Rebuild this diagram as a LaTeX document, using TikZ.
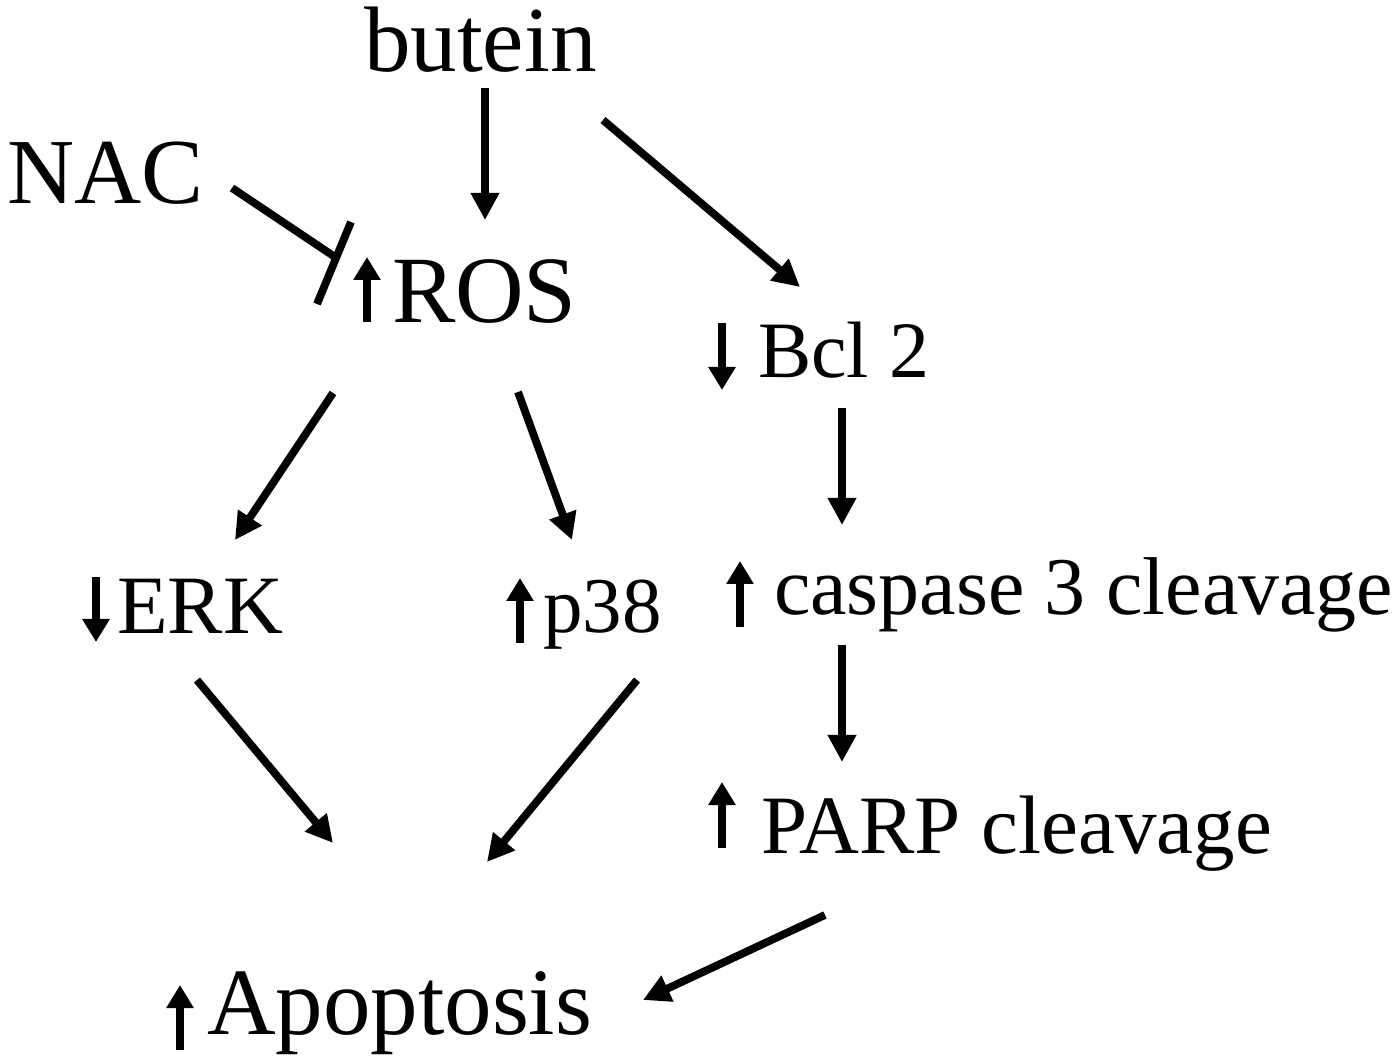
\documentclass[tikz,border=0pt]{standalone}
\usepackage{fontspec}
\setmainfont{Liberation Serif}
\usetikzlibrary{arrows.meta,calc}
\begin{document}
\begin{tikzpicture}[x=0.5pt,y=-0.5pt,
  lbl/.style={anchor=base west,inner sep=0pt,outer sep=0pt},
  fs/.style={font=\fontsize{#1}{#1}\selectfont},
  conn/.style={line width=3.9pt,-{Triangle[length=13.5pt,width=13.5pt]}},
  inh/.style={line width=3.9pt},
  glyph/.style={line width=4pt,-{Triangle[length=11.5pt,width=13pt]}}]
\useasboundingbox[fill=white] (0,0) rectangle (1398,1058);
% nodes
\node[lbl,fs=46.5pt] (butein) at (364,72)  {butein};
\node[lbl,fs=46.5pt] (nac)    at (7,204)   {NAC};
\node[lbl,fs=47.5pt] (ros)    at (392,323) {ROS};
\node[lbl,fs=40pt]   (bcl)    at (758,378) {Bcl 2};
\node[lbl,fs=41.5pt] (erk)    at (117,634) {ERK};
\node[lbl,fs=39.5pt] (p38)    at (543,633) {p38};
\node[lbl,fs=41pt]   (casp)   at (774,615) {caspase 3 cleavage};
\node[lbl,fs=41.5pt] (parp)   at (761,853) {PARP cleavage};
\node[lbl,fs=47.5pt] (apop)   at (207,1034) {Apoptosis};
% up/down glyph arrows
\draw[glyph] ($(ros.base west)+(-25,-1)$)  -- ($(ros.base west)+(-25,-66)$);
\draw[glyph] ($(bcl.base west)+(-36,-55)$) -- ($(bcl.base west)+(-36,12)$);
\draw[glyph] ($(erk.base west)+(-21,-57)$) -- ($(erk.base west)+(-21,8)$);
\draw[glyph] ($(p38.base west)+(-23,10)$)  -- ($(p38.base west)+(-23,-55)$);
\draw[glyph] ($(casp.base west)+(-34,12)$) -- ($(casp.base west)+(-34,-54)$);
\draw[glyph] ($(parp.base west)+(-39,-5)$) -- ($(parp.base west)+(-39,-71)$);
\draw[glyph] ($(apop.base west)+(-27,16)$) -- ($(apop.base west)+(-27,-49)$);
% connectors
\draw[conn] ($(butein.base west)+(121,16)$) -- ($(ros.base west)+(93,-103)$);
\draw[conn] ($(butein.base west)+(239,48)$) -- ($(bcl.base west)+(42,-91)$);
\draw[inh]  ($(nac.base west)+(225,-16)$) -- ($(ros.base west)+(-57,-66)$);
\draw[inh]  ($(ros.base west)+(-41,-101)$) -- ($(ros.base west)+(-75,-19)$);
\draw[conn] ($(ros.base west)+(-59,70)$) -- ($(erk.base west)+(118,-94)$);
\draw[conn] ($(ros.base west)+(126,69)$) -- ($(p38.base west)+(29,-93)$);
\draw[conn] ($(bcl.base west)+(84,30)$) -- ($(casp.base west)+(68,-90)$);
\draw[conn] ($(casp.base west)+(68,30)$) -- ($(parp.base west)+(81,-91)$);
\draw[conn] ($(erk.base west)+(80,46)$) -- ($(apop.base west)+(126,-191)$);
\draw[conn] ($(p38.base west)+(94,47)$) -- ($(apop.base west)+(280,-172)$);
\draw[conn] ($(parp.base west)+(64,62)$) -- ($(apop.base west)+(436,-34)$);
\end{tikzpicture}
\end{document}
